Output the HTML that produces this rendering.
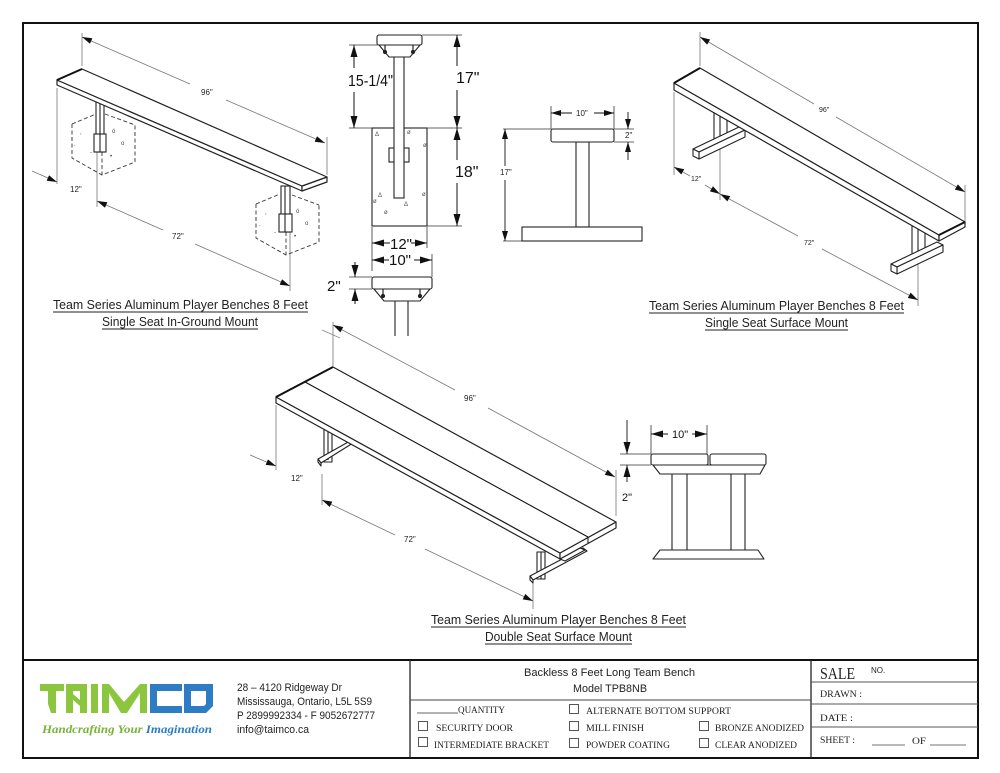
<!DOCTYPE html>
<html><head><meta charset="utf-8"><style>
html,body{margin:0;padding:0;background:#fff;}
svg{display:block;}
text{font-family:"Liberation Sans",Arial,sans-serif;}
.ser,.ser text,text.ser{font-family:"Liberation Serif","DejaVu Serif",serif;}
</style></head><body>
<svg width="1000" height="773" viewBox="0 0 1000 773" xmlns="http://www.w3.org/2000/svg">
<defs>
<marker id="aL" viewBox="0 0 12 7" refX="12" refY="3.5" markerWidth="12" markerHeight="7" markerUnits="userSpaceOnUse" orient="auto"><path d="M0,0 L12,3.5 L0,7z" fill="#111"/></marker>
<marker id="aM" viewBox="0 0 10 6" refX="10" refY="3" markerWidth="11" markerHeight="6" markerUnits="userSpaceOnUse" orient="auto"><path d="M0,0 L10,3 L0,6z" fill="#111"/></marker>
<marker id="aS" viewBox="0 0 8 5" refX="8" refY="2.5" markerWidth="8" markerHeight="5" markerUnits="userSpaceOnUse" orient="auto"><path d="M0,0 L8,2.5 L0,5z" fill="#111"/></marker>
</defs>
<rect x="0" y="0" width="1000" height="773" fill="#fff"/>

<!-- frame -->
<rect x="23" y="23" width="955" height="735" fill="none" stroke="#111" stroke-width="2"/>
<line x1="23" y1="660" x2="978" y2="660" stroke="#111" stroke-width="2"/>
<line x1="410" y1="660" x2="410" y2="758" stroke="#222" stroke-width="1.3"/>
<line x1="811" y1="660" x2="811" y2="758" stroke="#222" stroke-width="1.3"/>
<line x1="410" y1="700" x2="811" y2="700" stroke="#444" stroke-width="1"/>
<line x1="811" y1="682" x2="978" y2="682" stroke="#555" stroke-width="1"/>
<line x1="811" y1="704" x2="978" y2="704" stroke="#555" stroke-width="1"/>
<line x1="811" y1="727" x2="978" y2="727" stroke="#555" stroke-width="1"/>

<!-- ============ TOP LEFT : in-ground ============ -->
<g stroke="#777" stroke-width="0.8" fill="none">
  <line x1="82" y1="33" x2="82" y2="66"/>
  <line x1="327" y1="137" x2="327" y2="175"/>
  <line x1="57" y1="88" x2="57" y2="184"/>
  <line x1="97" y1="152" x2="97" y2="207"/>
  <line x1="290" y1="232" x2="290" y2="291"/>
</g>
<g stroke="#777" stroke-width="0.8">
  <line x1="190" y1="84" x2="82" y2="37" marker-end="url(#aM)"/>
  <line x1="226" y1="100" x2="325" y2="143" marker-end="url(#aM)"/>
  <line x1="32" y1="171" x2="57" y2="182" marker-end="url(#aM)"/>
  <line x1="163" y1="230" x2="97" y2="201" marker-end="url(#aM)"/>
  <line x1="195" y1="244" x2="290" y2="286" marker-end="url(#aM)"/>
</g>
<g font-size="8" fill="#222">
  <text x="201" y="95">96"</text>
  <text x="70" y="192">12"</text>
  <text x="172" y="239">72"</text>
</g>
<!-- concrete cubes -->
<g stroke="#333" stroke-width="0.9" fill="none" stroke-dasharray="4,2.5">
  <polyline points="72,124 72,158 102,175 135,162 135,125"/>
  <line x1="72" y1="124" x2="96" y2="114"/>
  <line x1="105" y1="114" x2="135" y2="125"/>
  <line x1="102" y1="152" x2="102" y2="175"/>
  <polyline points="256,204 256,238 286,255 319,242 319,205"/>
  <line x1="256" y1="204" x2="280" y2="194"/>
  <line x1="292" y1="195" x2="319" y2="205"/>
  <line x1="286" y1="232" x2="286" y2="255"/>
</g>
<g fill="#444" font-size="6">
  <text x="80" y="134">,</text><text x="112" y="133">ó</text><text x="74" y="146">.</text><text x="90" y="154">-</text><text x="121" y="145">o</text><text x="110" y="158">•</text>
  <text x="265" y="214">,</text><text x="296" y="213">ó</text><text x="259" y="226">.</text><text x="274" y="234">-</text><text x="305" y="225">o</text><text x="294" y="238">•</text>
</g>
<!-- legs -->
<g stroke="#222" stroke-width="1.1" fill="#fff">
  <rect x="96" y="100" width="8" height="52"/>
  <rect x="94" y="134" width="12" height="18"/>
  <line x1="100" y1="100" x2="100" y2="152"/>
  <rect x="281" y="186" width="9" height="46"/>
  <rect x="279" y="214" width="13" height="18"/>
  <line x1="285" y1="186" x2="285" y2="232"/>
</g>
<!-- bench top -->
<g stroke="#222" stroke-width="1.2" fill="#fff" stroke-linejoin="round">
  <polygon points="57,80 302,186 302,191 57,85"/>
  <polygon points="302,186 327,177 327,182 302,191"/>
  <polygon points="57,80 82,69 327,177 302,186"/>
</g>
<line x1="57" y1="80" x2="82" y2="69" stroke="#111" stroke-width="2"/>
<g font-size="13" fill="#222">
  <text x="53" y="309" textLength="255" lengthAdjust="spacingAndGlyphs">Team Series Aluminum Player Benches 8 Feet</text>
  <text x="102" y="326" textLength="156" lengthAdjust="spacingAndGlyphs">Single Seat In-Ground Mount</text>
</g>
<line x1="53" y1="312" x2="308" y2="312" stroke="#222" stroke-width="0.9"/>
<line x1="102" y1="329" x2="258" y2="329" stroke="#222" stroke-width="0.9"/>

<!-- ============ TOP MIDDLE : in-ground section ============ -->
<g stroke="#222" stroke-width="1.1" fill="#fff">
  <rect x="372" y="128" width="55" height="98"/>
  <rect x="389" y="148" width="20" height="14"/>
  <rect x="394" y="56" width="10" height="142"/>
  <polygon points="379,45 389,57 410,57 420,45"/>
  <rect x="377" y="35" width="45" height="10" rx="2"/>
</g>
<g stroke="#222" stroke-width="1.2" fill="#222">
  <line x1="385" y1="45" x2="385" y2="54"/><circle cx="385" cy="52" r="1.5"/>
  <line x1="413" y1="45" x2="413" y2="54"/><circle cx="413" cy="52" r="1.5"/>
</g>
<g fill="#555" font-size="6">
  <text x="375" y="136">Δ</text><text x="407" y="134">ø</text><text x="423" y="147">ø</text>
  <text x="378" y="197">Δ</text><text x="373" y="203">ø</text><text x="422" y="196">ø</text><text x="404" y="206">Δ</text><text x="384" y="214">ø</text>
</g>
<!-- dims -->
<g stroke="#333" stroke-width="0.8" fill="none">
  <line x1="349" y1="45" x2="378" y2="45"/>
  <line x1="349" y1="128" x2="372" y2="128"/>
  <line x1="422" y1="35" x2="462" y2="35"/>
  <line x1="427" y1="128" x2="462" y2="128"/>
  <line x1="427" y1="226" x2="462" y2="226"/>
  <line x1="372" y1="227" x2="372" y2="271"/>
  <line x1="427" y1="227" x2="427" y2="248"/>
  <line x1="432" y1="254" x2="432" y2="277"/>
  <line x1="349" y1="277" x2="372" y2="277"/>
  <line x1="349" y1="289" x2="372" y2="289"/>
</g>
<g stroke="#111" stroke-width="1">
  <line x1="354" y1="68" x2="354" y2="45" marker-end="url(#aL)"/>
  <line x1="354" y1="92" x2="354" y2="128" marker-end="url(#aL)"/>
  <line x1="457" y1="66" x2="457" y2="35" marker-end="url(#aL)"/>
  <line x1="457" y1="90" x2="457" y2="128" marker-end="url(#aL)"/>
  <line x1="457" y1="160" x2="457" y2="128" marker-end="url(#aL)"/>
  <line x1="457" y1="183" x2="457" y2="226" marker-end="url(#aL)"/>
  <line x1="390" y1="243" x2="372" y2="243" marker-end="url(#aL)"/>
  <line x1="411" y1="243" x2="427" y2="243" marker-end="url(#aL)"/>
  <line x1="389" y1="260" x2="372" y2="260" marker-end="url(#aL)"/>
  <line x1="414" y1="260" x2="432" y2="260" marker-end="url(#aL)"/>
  <line x1="355" y1="262" x2="355" y2="277" marker-end="url(#aL)"/>
  <line x1="355" y1="304" x2="355" y2="289" marker-end="url(#aL)"/>
</g>
<g font-size="16" fill="#111">
  <text x="348" y="86" textLength="45" lengthAdjust="spacingAndGlyphs">15-1/4"</text>
  <text x="456" y="83">17"</text>
  <text x="455" y="177">18"</text>
  <text x="390" y="249" font-size="15">12"</text>
  <text x="389" y="265" font-size="15">10"</text>
  <text x="327" y="291" font-size="15">2"</text>
</g>
<g stroke="#222" stroke-width="1.1" fill="#fff">
  <polygon points="374,289 384,301 420,301 430,289"/>
  <rect x="372" y="277" width="60" height="12" rx="2"/>
  <line x1="395" y1="301" x2="395" y2="336"/>
  <line x1="408" y1="301" x2="408" y2="336"/>
</g>
<g stroke="#222" stroke-width="1.2" fill="#222">
  <line x1="383" y1="289" x2="383" y2="297"/><circle cx="383" cy="296" r="1.5"/>
  <line x1="420" y1="289" x2="420" y2="297"/><circle cx="420" cy="296" r="1.5"/>
</g>
<line x1="322" y1="330" x2="340" y2="338" stroke="#888" stroke-width="0.8"/>

<!-- side view -->
<g stroke="#333" stroke-width="0.8" fill="none">
  <line x1="551" y1="106" x2="551" y2="129"/>
  <line x1="614" y1="106" x2="614" y2="129"/>
  <line x1="503" y1="129" x2="551" y2="129"/>
  <line x1="503" y1="241" x2="522" y2="241"/>
  <line x1="614" y1="129" x2="634" y2="129"/>
  <line x1="614" y1="142" x2="634" y2="142"/>
</g>
<g stroke="#111" stroke-width="0.9">
  <line x1="572" y1="113" x2="551" y2="113" marker-end="url(#aM)"/>
  <line x1="594" y1="113" x2="614" y2="113" marker-end="url(#aM)"/>
  <line x1="505" y1="166" x2="505" y2="129" marker-end="url(#aM)"/>
  <line x1="505" y1="180" x2="505" y2="241" marker-end="url(#aM)"/>
  <line x1="628" y1="112" x2="628" y2="129" marker-end="url(#aM)"/>
  <line x1="628" y1="160" x2="628" y2="142" marker-end="url(#aM)"/>
</g>
<g font-size="8" fill="#222">
  <text x="576" y="116">10"</text>
  <text x="500" y="175">17"</text>
  <text x="625" y="138">2"</text>
</g>
<g stroke="#222" stroke-width="1.1" fill="#fff">
  <rect x="576" y="142" width="13" height="85"/>
  <rect x="551" y="129" width="63" height="13" rx="2"/>
  <rect x="522" y="227" width="120" height="14"/>
</g>

<!-- ============ TOP RIGHT : surface mount ============ -->
<g stroke="#777" stroke-width="0.8" fill="none">
  <line x1="700" y1="32" x2="700" y2="66"/>
  <line x1="965" y1="185" x2="965" y2="222"/>
  <line x1="674" y1="92" x2="674" y2="175"/>
  <line x1="720" y1="143" x2="720" y2="200"/>
  <line x1="918" y1="246" x2="918" y2="306"/>
</g>
<g stroke="#777" stroke-width="0.8">
  <line x1="814" y1="104" x2="700" y2="37" marker-end="url(#aM)"/>
  <line x1="836" y1="117" x2="965" y2="192" marker-end="url(#aM)"/>
  <line x1="690" y1="176" x2="674" y2="167" marker-end="url(#aM)"/>
  <line x1="705" y1="185" x2="720" y2="194" marker-end="url(#aM)"/>
  <line x1="798" y1="236" x2="720" y2="194" marker-end="url(#aM)"/>
  <line x1="822" y1="249" x2="918" y2="300" marker-end="url(#aM)"/>
</g>
<g font-size="7" fill="#222">
  <text x="819" y="112">96"</text>
  <text x="691" y="181">12"</text>
  <text x="804" y="245">72"</text>
</g>
<g stroke="#222" stroke-width="1.1" fill="#fff" stroke-linejoin="round">
  <rect x="714" y="108" width="13" height="34"/>
  <line x1="720" y1="108" x2="720" y2="142"/>
  <polygon points="693,149 739,127 745,130 699,152"/>
  <polygon points="699,152 745,130 745,137 699,159"/>
  <polygon points="693,149 699,152 699,159 693,156"/>
  <rect x="912" y="224" width="13" height="34"/>
  <line x1="918" y1="224" x2="918" y2="258"/>
  <polygon points="891,264 937,242 943,245 897,267"/>
  <polygon points="897,267 943,245 943,252 897,274"/>
  <polygon points="891,264 897,267 897,274 891,271"/>
</g>
<g stroke="#222" stroke-width="1.2" fill="#fff" stroke-linejoin="round">
  <polygon points="674,83 939,235 939,241 674,90"/>
  <polygon points="939,235 965,222 965,227 939,241"/>
  <polygon points="674,83 700,68 965,222 939,235"/>
</g>
<line x1="674" y1="83" x2="700" y2="68" stroke="#111" stroke-width="2"/>
<line x1="939" y1="235" x2="965" y2="222" stroke="#111" stroke-width="2"/>
<g font-size="13" fill="#222">
  <text x="649" y="310" textLength="255" lengthAdjust="spacingAndGlyphs">Team Series Aluminum Player Benches 8 Feet</text>
  <text x="705" y="327" textLength="143" lengthAdjust="spacingAndGlyphs">Single Seat Surface Mount</text>
</g>
<line x1="649" y1="313" x2="904" y2="313" stroke="#222" stroke-width="0.9"/>
<line x1="705" y1="330" x2="848" y2="330" stroke="#222" stroke-width="0.9"/>

<!-- ============ BOTTOM CENTER : double seat ============ -->
<g stroke="#777" stroke-width="0.8" fill="none">
  <line x1="333" y1="322" x2="333" y2="366"/>
  <line x1="616" y1="470" x2="616" y2="516"/>
  <line x1="276" y1="405" x2="276" y2="470"/>
  <line x1="322" y1="474" x2="322" y2="505"/>
  <line x1="533" y1="580" x2="533" y2="609"/>
</g>
<g stroke="#777" stroke-width="0.8">
  <line x1="455" y1="390" x2="333" y2="325" marker-end="url(#aM)"/>
  <line x1="488" y1="408" x2="615" y2="477" marker-end="url(#aM)"/>
  <line x1="250" y1="455" x2="276" y2="466" marker-end="url(#aM)"/>
  <line x1="395" y1="535" x2="322" y2="500" marker-end="url(#aM)"/>
  <line x1="425" y1="549" x2="533" y2="601" marker-end="url(#aM)"/>
</g>
<g font-size="8" fill="#222">
  <text x="464" y="401">96"</text>
  <text x="291" y="481">12"</text>
  <text x="404" y="542">72"</text>
</g>
<g stroke="#222" stroke-width="1.1" fill="#fff" stroke-linejoin="round">
  <rect x="324" y="426" width="8" height="36"/>
  <line x1="328" y1="426" x2="328" y2="460"/>
  <polygon points="318,459 350,441 353,443 321,463"/>
  <polygon points="318,459 321,463 321,466 318,462"/>
  <rect x="537" y="552" width="8" height="27"/>
  <line x1="541" y1="552" x2="541" y2="579"/>
  <polygon points="530,576 583,548 587,551 533,580"/>
  <polygon points="530,576 533,580 533,583 530,580"/>
  <polygon points="560,559 580,548 585,550 565,561"/>
</g>
<g stroke="#222" stroke-width="1.2" fill="#fff" stroke-linejoin="round">
  <polygon points="276,397 560,553 560,559 276,403"/>
  <polygon points="560,553 616,522 616,528 560,559"/>
  <polygon points="276,397 333,367 616,522 560,553"/>
</g>
<line x1="305" y1="382" x2="588" y2="537" stroke="#111" stroke-width="1.1"/>
<line x1="588" y1="537" x2="588" y2="543" stroke="#111" stroke-width="1"/>
<line x1="276" y1="397" x2="333" y2="367" stroke="#111" stroke-width="2"/>
<g font-size="13" fill="#222">
  <text x="431" y="624" textLength="255" lengthAdjust="spacingAndGlyphs">Team Series Aluminum Player Benches 8 Feet</text>
  <text x="485" y="641" textLength="147" lengthAdjust="spacingAndGlyphs">Double Seat Surface Mount</text>
</g>
<line x1="431" y1="627" x2="686" y2="627" stroke="#222" stroke-width="0.9"/>
<line x1="485" y1="644" x2="632" y2="644" stroke="#222" stroke-width="0.9"/>

<!-- bottom right section -->
<g stroke="#333" stroke-width="0.8" fill="none">
  <line x1="651" y1="425" x2="651" y2="454"/>
  <line x1="707" y1="425" x2="707" y2="454"/>
  <line x1="620" y1="454" x2="651" y2="454"/>
  <line x1="620" y1="465" x2="651" y2="465"/>
</g>
<g stroke="#111" stroke-width="0.9">
  <line x1="668" y1="434" x2="651" y2="434" marker-end="url(#aL)"/>
  <line x1="692" y1="434" x2="707" y2="434" marker-end="url(#aL)"/>
  <line x1="627" y1="420" x2="627" y2="454" marker-end="url(#aL)"/>
  <line x1="627" y1="482" x2="627" y2="465" marker-end="url(#aL)"/>
</g>
<g font-size="11" fill="#111">
  <text x="672" y="438">10"</text>
  <text x="622" y="501">2"</text>
</g>
<g stroke="#222" stroke-width="1.1" fill="#fff" stroke-linejoin="round">
  <rect x="672" y="474" width="15" height="76"/>
  <rect x="731" y="474" width="14" height="76"/>
  <polygon points="653,465 660,474 760,474 765,465"/>
  <polygon points="660,550 758,550 764,559 653,559"/>
  <rect x="651" y="454" width="57" height="11" rx="2"/>
  <rect x="710" y="454" width="56" height="11" rx="2"/>
</g>

<!-- ============ TITLE BLOCK ============ -->
<!-- logo -->
<g fill="#8cc63e">
  <rect x="40" y="684" width="24" height="7"/>
  <polygon points="48,691 56,691 56,713 51,713 48,704"/>
  <rect x="66" y="684" width="21" height="7"/>
  <rect x="66" y="684" width="7" height="29"/>
  <rect x="80" y="684" width="7" height="29"/>
  <polygon points="73,694 80,700 80,706 73,700"/>
  <rect x="91" y="684" width="7" height="29"/>
  <rect x="102" y="684" width="7" height="29"/>
  <rect x="140" y="684" width="7" height="29"/>
  <polygon points="109,684 124,702 140,684 140,693 127,713 121,713 109,693"/>
</g>
<g fill="#2e7dc4">
  <rect x="150" y="684" width="32" height="7"/>
  <rect x="150" y="684" width="7" height="29"/>
  <rect x="150" y="706" width="32" height="7"/>
  <path d="M184,684 H213 V706 L206,713 H184Z M191,691 V706 H204 L206,704 V691Z" fill-rule="evenodd"/>
</g>
<text class="ser" x="42" y="733" font-size="12" font-style="italic" font-weight="bold" textLength="170" lengthAdjust="spacingAndGlyphs"><tspan fill="#7ab339">Handcrafting Your </tspan><tspan fill="#2e7dc4">Imagination</tspan></text>

<g font-size="11" fill="#222">
  <text x="237" y="691" textLength="105" lengthAdjust="spacingAndGlyphs">28 – 4120 Ridgeway Dr</text>
  <text x="237" y="705" textLength="135" lengthAdjust="spacingAndGlyphs">Mississauga, Ontario, L5L 5S9</text>
  <text x="237" y="719" textLength="138" lengthAdjust="spacingAndGlyphs">P 2899992334 - F 9052672777</text>
  <text x="237" y="733" textLength="72" lengthAdjust="spacingAndGlyphs">info@taimco.ca</text>
</g>

<g font-size="11" fill="#222">
  <text x="524" y="676" textLength="171" lengthAdjust="spacingAndGlyphs">Backless 8 Feet Long Team Bench</text>
  <text x="573" y="692" textLength="74" lengthAdjust="spacingAndGlyphs">Model TPB8NB</text>
</g>
<g class="ser" font-size="9.5" fill="#222">
  <line x1="417" y1="713" x2="458" y2="713" stroke="#333" stroke-width="0.8"/>
  <text x="458" y="713" textLength="47" lengthAdjust="spacingAndGlyphs">QUANTITY</text>
  <text x="586" y="714" textLength="145" lengthAdjust="spacingAndGlyphs">ALTERNATE BOTTOM SUPPORT</text>
  <text x="436" y="731" textLength="77" lengthAdjust="spacingAndGlyphs">SECURITY DOOR</text>
  <text x="586" y="731" textLength="58" lengthAdjust="spacingAndGlyphs">MILL FINISH</text>
  <text x="715" y="731" textLength="89" lengthAdjust="spacingAndGlyphs">BRONZE ANODIZED</text>
  <text x="434" y="748" textLength="115" lengthAdjust="spacingAndGlyphs">INTERMEDIATE BRACKET</text>
  <text x="586" y="748" textLength="84" lengthAdjust="spacingAndGlyphs">POWDER COATING</text>
  <text x="715" y="748" textLength="82" lengthAdjust="spacingAndGlyphs">CLEAR ANODIZED</text>
</g>
<g fill="none" stroke="#444" stroke-width="0.9">
  <rect x="569.5" y="704.5" width="9" height="9"/>
  <rect x="418.5" y="721.5" width="9" height="9"/>
  <rect x="569.5" y="721.5" width="9" height="9"/>
  <rect x="699.5" y="721.5" width="9" height="9"/>
  <rect x="418.5" y="737.5" width="9" height="9"/>
  <rect x="569.5" y="738.5" width="9" height="9"/>
  <rect x="699.5" y="738.5" width="9" height="9"/>
</g>

<g class="ser" fill="#222">
  <text x="820" y="679" font-size="17" textLength="35" lengthAdjust="spacingAndGlyphs">SALE</text>
  <text x="820" y="697" font-size="9" textLength="42" lengthAdjust="spacingAndGlyphs">DRAWN :</text>
  <text x="820" y="721" font-size="9" textLength="33" lengthAdjust="spacingAndGlyphs">DATE :</text>
  <text x="820" y="743" font-size="9" textLength="35" lengthAdjust="spacingAndGlyphs">SHEET :</text>
  <text x="912" y="744" font-size="9" textLength="14" lengthAdjust="spacingAndGlyphs">OF</text>
</g>
<text x="871" y="673" font-size="8" fill="#222">NO.</text>
<line x1="872" y1="745" x2="905" y2="745" stroke="#444" stroke-width="0.8"/>
<line x1="930" y1="745" x2="966" y2="745" stroke="#444" stroke-width="0.8"/>
</svg>
</body></html>
